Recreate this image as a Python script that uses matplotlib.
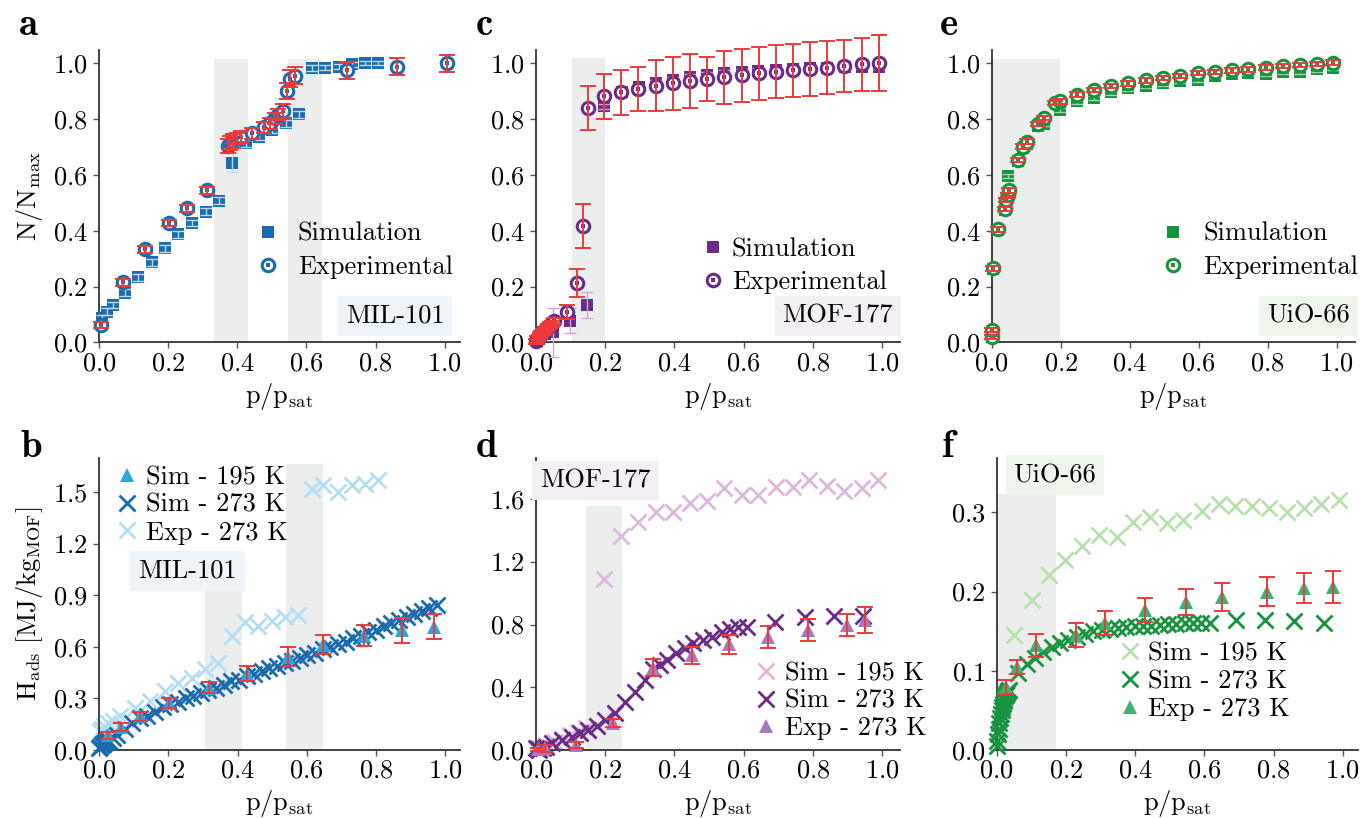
import numpy as np
import matplotlib
matplotlib.use("Agg")
import matplotlib.pyplot as plt
from matplotlib.legend_handler import HandlerTuple

plt.rcParams['font.family'] = ['cmr10', 'DejaVu Sans']
plt.rcParams['mathtext.fontset'] = 'cm'
plt.rcParams['axes.unicode_minus'] = False
plt.rcParams['axes.formatter.use_mathtext'] = True

FS = 19
RED = '#ee3a3a'
SHADE = '#eceeed'

# ---------------- panel a : MIL-101 isotherm ----------------
a_sim_x = [0.008, 0.022, 0.040, 0.076, 0.114, 0.154, 0.192, 0.230, 0.270, 0.309, 0.346, 0.386,
           0.424, 0.463, 0.502, 0.540, 0.578, 0.615, 0.655, 0.694, 0.732, 0.771, 0.808]
a_sim_y = [0.086, 0.110, 0.134, 0.178, 0.233, 0.286, 0.337, 0.387, 0.427, 0.468, 0.507, 0.644,
           0.713, 0.737, 0.761, 0.785, 0.817, 0.982, 0.984, 0.988, 0.996, 1.000, 1.000]
a_sim_err = [0.012, 0.012, 0.012, 0.012, 0.012, 0.012, 0.012, 0.012, 0.012, 0.012, 0.012, 0.035,
             0.012, 0.012, 0.012, 0.012, 0.012, 0.010, 0.010, 0.010, 0.010, 0.008, 0.008]
a_exp_x = [0.006, 0.070, 0.133, 0.203, 0.256, 0.313, 0.372, 0.379, 0.387, 0.398, 0.410, 0.442,
           0.476, 0.495, 0.510, 0.519, 0.533, 0.543, 0.553, 0.567, 0.717, 0.861, 1.007]
a_exp_y = [0.062, 0.215, 0.333, 0.427, 0.480, 0.544, 0.704, 0.713, 0.720, 0.731, 0.737, 0.749,
           0.770, 0.785, 0.803, 0.815, 0.827, 0.900, 0.944, 0.955, 0.974, 0.988, 1.000]
a_exp_err = [0.012, 0.012, 0.012, 0.012, 0.012, 0.012, 0.025, 0.025, 0.025, 0.020, 0.020, 0.020,
             0.020, 0.020, 0.020, 0.020, 0.025, 0.030, 0.030, 0.030, 0.030, 0.030, 0.030]

# ---------------- panel c : MOF-177 isotherm ----------------
c_sim_x = [0.002, 0.008, 0.015, 0.025, 0.035, 0.050, 0.098, 0.148, 0.197, 0.248, 0.298, 0.347,
           0.397, 0.445, 0.493, 0.543, 0.594, 0.643, 0.694, 0.744, 0.792, 0.842, 0.893, 0.941, 0.992]
c_sim_y = [0.005, 0.012, 0.020, 0.030, 0.040, 0.036, 0.078, 0.134, 0.845, 0.898, 0.913, 0.928,
           0.940, 0.950, 0.958, 0.964, 0.970, 0.972, 0.976, 0.978, 0.982, 0.984, 0.988, 0.988, 0.988]
c_sim_err = [0.005, 0.005, 0.005, 0.005, 0.005, 0.087, 0.045, 0.047, 0.010, 0.010, 0.010, 0.010,
             0.010, 0.010, 0.010, 0.010, 0.010, 0.010, 0.010, 0.010, 0.010, 0.010, 0.010, 0.010, 0.010]
c_exp_x = [0.000, 0.004, 0.008, 0.012, 0.016, 0.021, 0.026, 0.031, 0.036, 0.040, 0.046, 0.052,
           0.091, 0.119, 0.135, 0.149, 0.197, 0.246, 0.296, 0.347, 0.397, 0.445, 0.493, 0.543,
           0.594, 0.644, 0.694, 0.742, 0.792, 0.842, 0.891, 0.941, 0.991]
c_exp_y = [0.003, 0.012, 0.018, 0.025, 0.032, 0.038, 0.044, 0.050, 0.056, 0.062, 0.068, 0.076,
           0.108, 0.214, 0.417, 0.839, 0.881, 0.895, 0.908, 0.919, 0.928, 0.937, 0.943, 0.950,
           0.956, 0.964, 0.969, 0.974, 0.980, 0.983, 0.990, 0.996, 1.000]
c_exp_err = [0.010, 0.010, 0.010, 0.010, 0.010, 0.010, 0.010, 0.010, 0.010, 0.010, 0.010, 0.010,
             0.025, 0.050, 0.080, 0.080, 0.080, 0.081, 0.080, 0.091, 0.094, 0.096, 0.080, 0.095,
             0.096, 0.095, 0.095, 0.095, 0.096, 0.095, 0.094, 0.095, 0.100]

# ---------------- panel e : UiO-66 isotherm ----------------
e_sim_x = [0.002, 0.005, 0.019, 0.037, 0.048, 0.077, 0.092, 0.101, 0.135, 0.152, 0.198, 0.246,
           0.295, 0.345, 0.396, 0.446, 0.496, 0.546, 0.597, 0.647, 0.696, 0.744, 0.794, 0.843,
           0.894, 0.942, 0.990]
e_sim_y = [0.020, 0.262, 0.402, 0.475, 0.596, 0.650, 0.695, 0.712, 0.775, 0.783, 0.833, 0.863,
           0.875, 0.895, 0.910, 0.919, 0.928, 0.937, 0.940, 0.955, 0.962, 0.964, 0.962, 0.968,
           0.968, 0.978, 0.982]
e_exp_x = [0.002, 0.002, 0.005, 0.019, 0.037, 0.042, 0.046, 0.051, 0.077, 0.092, 0.101, 0.135,
           0.150, 0.184, 0.198, 0.246, 0.295, 0.345, 0.396, 0.446, 0.496, 0.546, 0.597, 0.647,
           0.696, 0.744, 0.794, 0.843, 0.894, 0.942, 0.990]
e_exp_y = [0.020, 0.044, 0.265, 0.405, 0.478, 0.510, 0.528, 0.544, 0.654, 0.701, 0.719, 0.783,
           0.803, 0.857, 0.863, 0.887, 0.904, 0.919, 0.928, 0.938, 0.946, 0.955, 0.964, 0.968,
           0.974, 0.978, 0.984, 0.990, 0.994, 0.998, 1.002]

# ---------------- panel b : MIL-101 heat ----------------
b_s195_x = [0.027, 0.063, 0.118, 0.202, 0.318, 0.427, 0.545, 0.648, 0.766, 0.876, 0.968]
b_s195_y = [0.085, 0.135, 0.197, 0.273, 0.362, 0.445, 0.543, 0.613, 0.666, 0.697, 0.717]
b_s195_err = [0.020, 0.025, 0.026, 0.031, 0.032, 0.045, 0.054, 0.057, 0.060, 0.072, 0.072]
b_s273_x = [0.000, 0.004, 0.008, 0.012, 0.016, 0.020, 0.025, 0.030, 0.040, 0.052, 0.074, 0.096,
            0.118, 0.140, 0.162, 0.184, 0.206, 0.228, 0.250, 0.272, 0.294, 0.316, 0.338, 0.360,
            0.382, 0.404, 0.426, 0.448, 0.470, 0.492, 0.514, 0.536, 0.558, 0.580, 0.602, 0.624,
            0.646, 0.668, 0.690, 0.712, 0.734, 0.756, 0.778, 0.800, 0.822, 0.844, 0.866, 0.888,
            0.910, 0.932, 0.954, 0.976]
b_s273_y = [0.010, 0.020, 0.030, 0.035, 0.040, 0.045, 0.050, 0.055, 0.070, 0.090, 0.125, 0.160,
            0.185, 0.200, 0.220, 0.250, 0.265, 0.280, 0.300, 0.315, 0.330, 0.350, 0.360, 0.380,
            0.400, 0.410, 0.430, 0.445, 0.460, 0.475, 0.490, 0.505, 0.520, 0.535, 0.550, 0.565,
            0.585, 0.600, 0.615, 0.630, 0.650, 0.665, 0.685, 0.700, 0.720, 0.740, 0.755, 0.775,
            0.790, 0.810, 0.825, 0.845]
b_e273_x = [0.003, 0.008, 0.015, 0.027, 0.040, 0.060, 0.104, 0.147, 0.190, 0.229, 0.268, 0.306,
            0.345, 0.383, 0.422, 0.460, 0.499, 0.537, 0.576, 0.614, 0.648, 0.691, 0.730, 0.768, 0.807]
b_e273_y = [0.110, 0.125, 0.140, 0.156, 0.170, 0.195, 0.244, 0.283, 0.342, 0.391, 0.420, 0.469,
            0.508, 0.664, 0.742, 0.723, 0.752, 0.771, 0.785, 1.520, 1.539, 1.500, 1.543, 1.549, 1.568]

# ---------------- panel d : MOF-177 heat ----------------
d_s195_x = [0.010, 0.030, 0.055, 0.075, 0.098, 0.122, 0.146, 0.197, 0.246, 0.296, 0.347, 0.395,
            0.445, 0.493, 0.543, 0.594, 0.643, 0.694, 0.742, 0.790, 0.840, 0.891, 0.941, 0.989]
d_s195_y = [0.010, 0.030, 0.048, 0.068, 0.096, 0.115, 0.138, 1.089, 1.362, 1.457, 1.521, 1.515,
            1.574, 1.585, 1.670, 1.628, 1.628, 1.680, 1.680, 1.723, 1.685, 1.649, 1.670, 1.723]
d_s273_x = [0.000, 0.005, 0.010, 0.020, 0.030, 0.045, 0.074, 0.103, 0.127, 0.151, 0.175, 0.199,
            0.228, 0.257, 0.286, 0.315, 0.337, 0.357, 0.378, 0.406, 0.431, 0.455, 0.482, 0.508,
            0.537, 0.561, 0.585, 0.609, 0.690, 0.776, 0.861, 0.946]
d_s273_y = [0.015, 0.005, 0.000, 0.012, 0.022, 0.043, 0.064, 0.085, 0.106, 0.128, 0.153, 0.191,
            0.238, 0.309, 0.372, 0.447, 0.515, 0.545, 0.574, 0.621, 0.649, 0.681, 0.702, 0.723,
            0.755, 0.770, 0.787, 0.783, 0.819, 0.851, 0.855, 0.855]
d_exp_x = [0.005, 0.026, 0.115, 0.224, 0.337, 0.450, 0.559, 0.671, 0.787, 0.898, 0.951]
d_exp_y = [0.005, 0.010, 0.030, 0.170, 0.525, 0.603, 0.673, 0.719, 0.766, 0.798, 0.830]
d_exp_err = [0.010, 0.020, 0.020, 0.025, 0.053, 0.053, 0.062, 0.071, 0.071, 0.071, 0.082]

# ---------------- panel f : UiO-66 heat ----------------
f_s195_x = [0.050, 0.101, 0.151, 0.197, 0.248, 0.297, 0.347, 0.395, 0.443, 0.491, 0.539, 0.592,
            0.641, 0.689, 0.737, 0.788, 0.838, 0.888, 0.937, 0.990]
f_s195_y = [0.145, 0.189, 0.221, 0.240, 0.258, 0.272, 0.269, 0.288, 0.294, 0.286, 0.290, 0.302,
            0.310, 0.308, 0.308, 0.306, 0.300, 0.305, 0.310, 0.316]
f_s273_x = [0.000, 0.002, 0.004, 0.006, 0.008, 0.010, 0.012, 0.014, 0.016, 0.018, 0.020, 0.022,
            0.025, 0.028, 0.031, 0.034, 0.037, 0.063, 0.087, 0.111, 0.135, 0.159, 0.183, 0.207,
            0.231, 0.255, 0.279, 0.303, 0.327, 0.351, 0.375, 0.399, 0.423, 0.447, 0.471, 0.495,
            0.519, 0.543, 0.567, 0.591, 0.615, 0.692, 0.776, 0.860, 0.946]
f_s273_y = [0.005, 0.012, 0.020, 0.027, 0.034, 0.040, 0.045, 0.050, 0.054, 0.058, 0.062, 0.065,
            0.068, 0.070, 0.072, 0.074, 0.076, 0.097, 0.108, 0.116, 0.124, 0.130, 0.135, 0.139,
            0.143, 0.147, 0.150, 0.152, 0.153, 0.154, 0.155, 0.156, 0.156, 0.157, 0.158, 0.159,
            0.159, 0.160, 0.160, 0.160, 0.160, 0.164, 0.164, 0.163, 0.160]
f_exp_x = [0.028, 0.058, 0.114, 0.228, 0.313, 0.429, 0.547, 0.650, 0.780, 0.888, 0.973]
f_exp_y = [0.080, 0.105, 0.132, 0.145, 0.160, 0.177, 0.187, 0.193, 0.200, 0.204, 0.206]
f_exp_err = [0.009, 0.009, 0.015, 0.015, 0.015, 0.015, 0.016, 0.018, 0.018, 0.019, 0.020]


def style(ax, xmax, ymax, yticks):
    ax.set_xlim(0, xmax)
    ax.set_ylim(0, ymax)
    ax.set_xticks([0.0, 0.2, 0.4, 0.6, 0.8, 1.0])
    ax.set_yticks(yticks)
    for s in ['top', 'right']:
        ax.spines[s].set_visible(False)
    for s in ['left', 'bottom']:
        ax.spines[s].set_color('#333333')
        ax.spines[s].set_linewidth(1.3)
    ax.tick_params(labelsize=FS, length=4, width=1, color='#555555', pad=2.5)
    ax.tick_params(axis='y', pad=4)
    ax.set_xlabel(r'$\mathrm{p/p_{sat}}$', fontsize=FS, labelpad=4)


def shade(ax, x0, x1, top):
    ax.fill_between([x0, x1], 0, top, color=SHADE, lw=0, zorder=0)


def tag(ax, x, y, txt, fc):
    ax.text(x, y, txt, fontsize=FS, ha='center', va='center', zorder=6,
            bbox=dict(boxstyle='square,pad=0.3', fc=fc, ec='none'))


fig = plt.figure(figsize=(13.61, 8.18), dpi=100)
ax_a = fig.add_axes([0.0727, 0.5815, 0.2652, 0.3573])
ax_c = fig.add_axes([0.3938, 0.5815, 0.2675, 0.3573])
ax_e = fig.add_axes([0.7287, 0.5815, 0.2669, 0.3573])
ax_b = fig.add_axes([0.0727, 0.0831, 0.2652, 0.3573])
ax_d = fig.add_axes([0.3938, 0.0831, 0.2675, 0.3573])
ax_f = fig.add_axes([0.7323, 0.0831, 0.2655, 0.3573])

iso_ticks = [0.0, 0.2, 0.4, 0.6, 0.8, 1.0]
ebar = dict(fmt='none', elinewidth=1.4, capsize=6, capthick=1.4, clip_on=False)
sbar = dict(fmt='none', elinewidth=1.0, capsize=4, capthick=1.0, clip_on=False)


def isotherm(ax, sx, sy, serr, ex, ey, eerr, col, scol, leg_pos, pad):
    sq, = ax.plot(sx, sy, ls='none', marker='s', ms=8.5, color=col, mew=0, zorder=3,
                  clip_on=False)
    ax.errorbar(sx, sy, yerr=serr, ecolor=scol, zorder=3.5, **sbar)
    ring, = ax.plot(ex, ey, ls='none', marker='o', ms=9, mfc='white', mec=col, mew=2.2,
                    zorder=4, clip_on=False)
    dot, = ax.plot(ex, ey, ls='none', marker='s', ms=2.2, color=col, mew=0, zorder=4.2,
                   clip_on=False)
    ax.errorbar(ex, ey, yerr=eerr, ecolor=RED, zorder=5, **ebar)
    ax.legend([sq, (ring, dot)], ['Simulation', 'Experimental'],
              handler_map={tuple: HandlerTuple(ndivide=1)},
              loc='center left', bbox_to_anchor=leg_pos, frameon=False, fontsize=FS,
              handlelength=1.0, handletextpad=pad, borderpad=0, borderaxespad=0,
              labelspacing=0.35)


# a
style(ax_a, 1.044, 1.047, iso_ticks)
shade(ax_a, 0.333, 0.43, 1.015)
shade(ax_a, 0.547, 0.644, 1.015)
isotherm(ax_a, a_sim_x, a_sim_y, a_sim_err, a_exp_x, a_exp_y, a_exp_err,
         '#1a6aad', '#b8dbf2', (0.431, 0.314), 0.64)
ax_a.set_ylabel(r'$\mathrm{N/N_{max}}$', fontsize=FS, labelpad=6)
tag(ax_a, 0.857, 0.094, 'MIL-101', '#eef5fa')

# c
style(ax_c, 1.052, 1.047, iso_ticks)
shade(ax_c, 0.104, 0.2, 1.02)
isotherm(ax_c, c_sim_x, c_sim_y, c_sim_err, c_exp_x, c_exp_y, c_exp_err,
         '#6a2b88', '#cfa6d6', (0.45, 0.261), 0.21)
tag(ax_c, 0.872, 0.094, 'MOF-177', '#f4eef5')

# e
style(ax_e, 1.053, 1.047, iso_ticks)
shade(ax_e, 0.0, 0.198, 1.015)
isotherm(ax_e, e_sim_x, e_sim_y, [0.008] * len(e_sim_x), e_exp_x, e_exp_y,
         [0.008] * len(e_exp_x), '#17923f', '#9fd6aa', (0.463, 0.314), 0.64)
tag(ax_e, 0.918, 0.094, 'UiO-66', '#eef6ec')

xkw = dict(ls='none', marker='x', ms=11, mew=2, clip_on=False)
trikw = dict(ls='none', marker='^', ms=10, mew=0, clip_on=False)
legkw = dict(loc='center left', frameon=False, fontsize=FS, handlelength=1.0,
             borderpad=0, borderaxespad=0, labelspacing=0.15)

# b
style(ax_b, 1.042, 1.7, [0.0, 0.3, 0.6, 0.9, 1.2, 1.5])
shade(ax_b, 0.306, 0.412, 0.93)
shade(ax_b, 0.54, 0.646, 1.664)
ax_b.plot(b_e273_x, b_e273_y, color='#b3ddf3', zorder=2, label='Exp - 273 K', **xkw)
ax_b.plot(b_s273_x, b_s273_y, color='#1a6aad', zorder=3, label='Sim - 273 K', **xkw)
ax_b.plot(b_s195_x, b_s195_y, color='#2aa5de', zorder=4, label='Sim - 195 K', **trikw)
ax_b.errorbar(b_s195_x, b_s195_y, yerr=b_s195_err, ecolor=RED, zorder=5, **ebar)
h, l = ax_b.get_legend_handles_labels()
ax_b.legend([h[2], h[1], h[0]], [l[2], l[1], l[0]], bbox_to_anchor=(0.04, 0.838),
            handletextpad=0.22, **legkw)
ax_b.set_ylabel(r'$\mathrm{H_{ads}\ [MJ/kg_{MOF}]}$', fontsize=FS, labelpad=6)
tag(ax_b, 0.255, 1.041, 'MIL-101', '#eef5fa')

# d
style(ax_d, 1.052, 1.864, [0.0, 0.4, 0.8, 1.2, 1.6])
shade(ax_d, 0.145, 0.25, 1.557)
ax_d.plot(d_s195_x, d_s195_y, color='#dbb8dc', zorder=2, label='Sim - 195 K', **xkw)
ax_d.plot(d_s273_x, d_s273_y, color='#6a2b88', zorder=3, label='Sim - 273 K', **xkw)
ax_d.plot(d_exp_x, d_exp_y, color='#a57bbd', zorder=4, label='Exp - 273 K', **trikw)
ax_d.errorbar(d_exp_x, d_exp_y, yerr=d_exp_err, ecolor=RED, zorder=5, **ebar)
ax_d.legend(bbox_to_anchor=(0.596, 0.168), handletextpad=0.22, **legkw)
tag(ax_d, 0.172, 1.72, 'MOF-177', '#f4eef5')

# f
style(ax_f, 1.044, 0.369, [0.0, 0.1, 0.2, 0.3])
shade(ax_f, 0.0, 0.17, 0.323)
ax_f.plot(f_s195_x, f_s195_y, color='#b8e0ad', zorder=2, label='Sim - 195 K', **xkw)
ax_f.plot(f_s273_x, f_s273_y, color='#17923f', zorder=3, label='Sim - 273 K', **xkw)
ax_f.plot(f_exp_x, f_exp_y, color='#3bb372', zorder=4, label='Exp - 273 K', **trikw)
ax_f.errorbar(f_exp_x, f_exp_y, yerr=f_exp_err, ecolor=RED, zorder=5, **ebar)
ax_f.legend(bbox_to_anchor=(0.332, 0.235), handletextpad=0.18, **legkw)
tag(ax_f, 0.168, 0.347, 'UiO-66', '#eef6ec')

# panel letters
for lx, ly, t in [(19, 35, 'a'), (20, 457, 'b'), (476, 35, 'c'),
                  (476, 457, 'd'), (940, 35, 'e'), (942, 457, 'f')]:
    fig.text(lx / 1361, 1 - ly / 818, t, fontfamily='cmb10', fontsize=28, va='baseline')

fig.savefig('out.png', dpi=100)
